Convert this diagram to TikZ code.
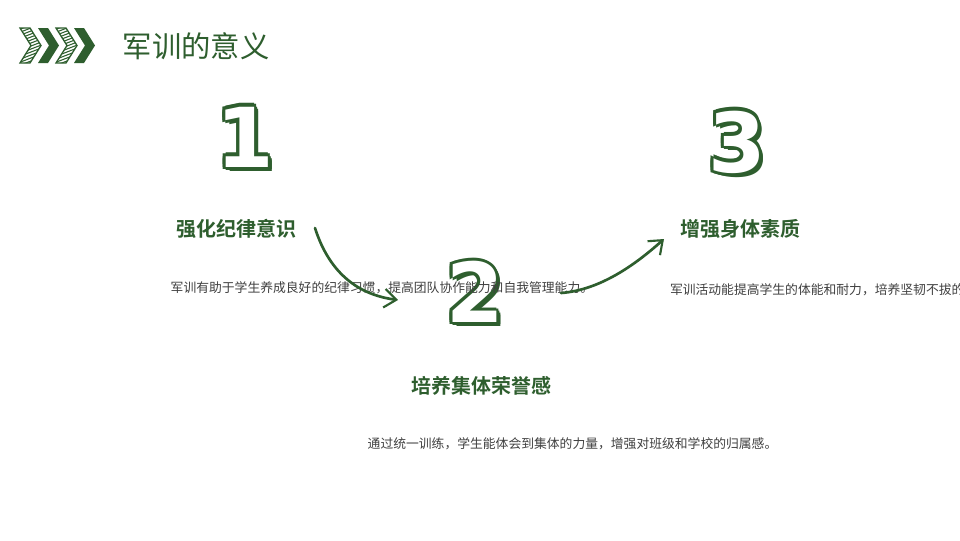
\documentclass[tikz,border=0pt]{standalone}
\usepackage{fontspec}
\newfontfamily\cjk{Noto Sans CJK SC}
\newfontfamily\cjkb{Noto Sans CJK SC Bold}
\newfontfamily\numf{DejaVu Sans}
\usetikzlibrary{arrows.meta}
\definecolor{dg}{HTML}{2E5E2E}
\definecolor{tg}{HTML}{404040}
\tikzset{
 head/.style={font=\cjkb\fontsize{15}{18}\selectfont, text=dg},
 body/.style={font=\cjk\fontsize{9.6}{14.2}\selectfont, text=tg, align=left, text width=#1},
 title/.style={font=\cjk\fontsize{22}{26}\selectfont, text=dg},
 arr/.style={dg, line width=2pt, line cap=round, -{Straight Barb[length=9pt,width=14pt,line width=1.6pt]}},
}
\newcommand{\bignum}[4]{%
 \foreach \dx/\dy in {-2.4/0,2.4/0,0/-2.4,0/2.4,-1.7/-1.7,1.7/1.7,-1.7/1.7,1.7/-1.7,3/-3,3.5/-1.5}{
  \node[text=dg, font=\numf\bfseries\fontsize{62}{62}\selectfont] at ([shift={(\dx pt,\dy pt)}]#1,#2) {#3};}
 \node[text=white, font=\numf\bfseries\fontsize{62}{62}\selectfont] (#4) at (#1,#2) {#3};}
\begin{document}
\begin{tikzpicture}[x=0.75pt,y=-0.75pt]
\useasboundingbox[fill=white] (0,0) rectangle (960,540);
% chevrons
\foreach \x/\f in {20/0,38/1,56/0,74/1}{
 \ifnum\f=1
 \fill[dg] (\x,28) -- (\x+10,28) -- (\x+21,45.5) -- (\x+10,63) -- (\x,63) -- (\x+11,45.5) -- cycle;
 \else
 \begin{scope}
 \clip (\x,28) -- (\x+10,28) -- (\x+21,45.5) -- (\x+10,63) -- (\x,63) -- (\x+11,45.5) -- cycle;
 \foreach \k in {-4,-1,...,40}{\draw[dg,line width=0.8pt] (\x-2,\k+28) -- (\x+24,\k+18);}
 \end{scope}
 \draw[dg, line width=1pt] (\x,28) -- (\x+10,28) -- (\x+21,45.5) -- (\x+10,63) -- (\x,63) -- (\x+11,45.5) -- cycle;
 \fi}
\node[title, anchor=west] (t) at (118,46) {军训的意义};
\bignum{245}{137}{1}{n1}
\bignum{475}{292}{2}{n2}
\bignum{737}{142}{3}{n3}
\node[head] (h1) at (236,229) {强化纪律意识};
\node[body=105pt, anchor=north west] (b1) at (166,277) {军训有助于学生养成良好的纪律习惯，提高团队协作能力和自我管理能力。};
\node[head] (h2) at (481,386) {培养集体荣誉感};
\node[body=176pt, anchor=north west] (b2) at (363,433) {通过统一训练，学生能体会到集体的力量，增强对班级和学校的归属感。};
\node[head] (h3) at (740,229) {增强身体素质};
\node[body=105pt, align=center, anchor=north] (b3) at (740,279) {军训活动能提高学生的体能和耐力，培养坚韧不拔的意志品质。};
\coordinate (a1s) at (315,228);
\coordinate (a1e) at (398,300);
\coordinate (a2s) at (561,293);
\coordinate (a2e) at (664,239);
\draw[arr] (a1s) .. controls (330,275) and (360,295) .. (a1e);
\draw[arr] (a2s) .. controls (600,290) and (635,265) .. (a2e);
\end{tikzpicture}
\end{document}
